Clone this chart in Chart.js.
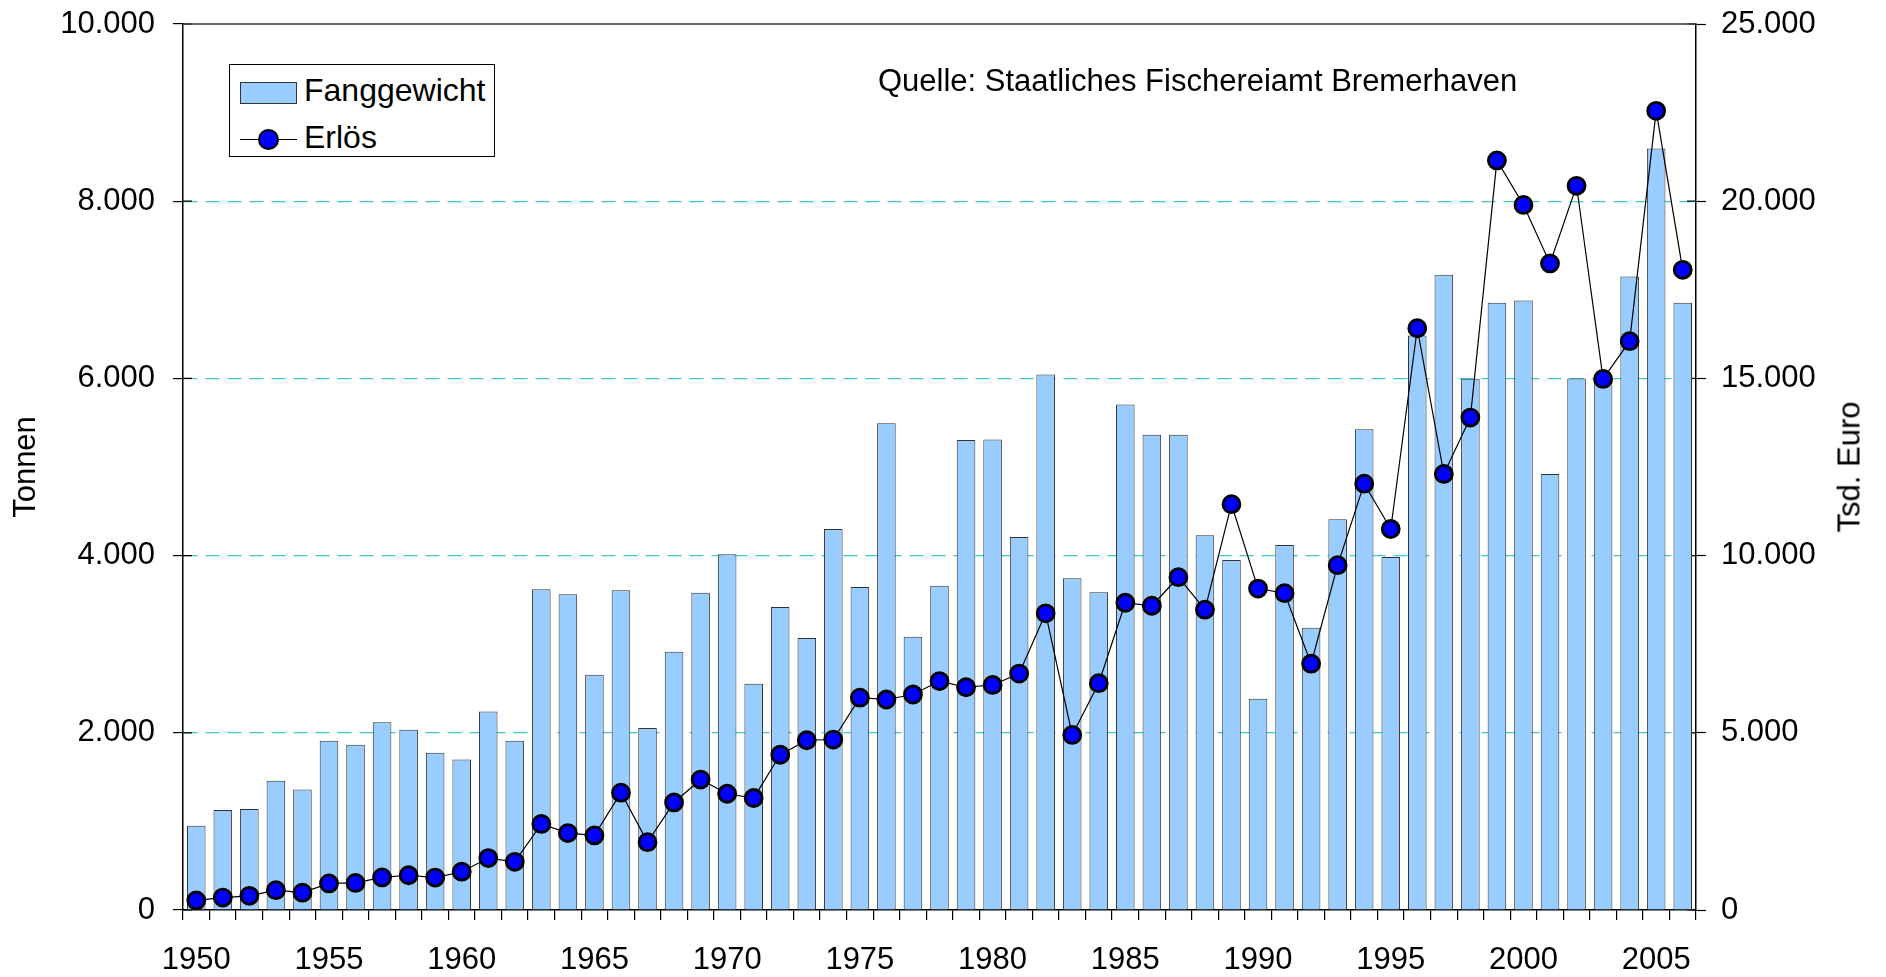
<!DOCTYPE html>
<html lang="de">
<head>
<meta charset="utf-8">
<title>Fanggewicht und Erlös</title>
<script src="https://cdn.jsdelivr.net/npm/chart.js@4/dist/chart.umd.min.js"></script>
<style>
  body { margin: 0; background: #fff; font-family: 'Liberation Sans', Arial, sans-serif; }
  #wrap { position: relative; width: 1886px; height: 977px; }
  #chart { position: absolute; left: 0; top: 0; }
  .legende { position: absolute; left: 229px; top: 64px; width: 264px; height: 91px; border: 1.5px solid #000; background: #fff; }
  .legende .txt { position: absolute; left: 74px; font-size: 32px; line-height: 32px; color: #000; white-space: nowrap; }
  .legende .swatch { position: absolute; left: 10px; top: 17px; width: 55px; height: 20px; background: #99ccff; border: 1px solid #333; }
  .legende .linie { position: absolute; left: 10px; top: 74px; width: 57px; height: 0; border-top: 1.2px solid #000; }
  .legende .punkt { position: absolute; left: 28px; top: 64px; width: 17px; height: 17px; border-radius: 50%; background: #0000ff; border: 2.5px solid #000; }
  .quelle { position: absolute; left: 878px; top: 65px; font-size: 31px; line-height: 31px; color: #000; white-space: nowrap; }
  .titel-rechts { position: absolute; left: 1849px; top: 467px; font-size: 31px; line-height: 31px; white-space: nowrap;
                  transform: translate(-50%, -50%) rotate(-90deg); }
</style>
</head>
<body>
<div id="wrap">
  <canvas id="chart" width="1886" height="977"></canvas>
  <div class="legende">
    <div class="swatch"></div>
    <div class="txt" style="top:9px;">Fanggewicht</div>
    <div class="linie"></div>
    <div class="punkt"></div>
    <div class="txt" style="top:56px;">Erlös</div>
  </div>
  <div class="quelle">Quelle: Staatliches Fischereiamt Bremerhaven</div>
  <div class="titel-rechts">Tsd. Euro</div>
</div>

<script>
// Jahre 1950 - 2006
const jahre = [
  1950, 1951, 1952, 1953, 1954, 1955, 1956, 1957, 1958, 1959,
  1960, 1961, 1962, 1963, 1964, 1965, 1966, 1967, 1968, 1969,
  1970, 1971, 1972, 1973, 1974, 1975, 1976, 1977, 1978, 1979,
  1980, 1981, 1982, 1983, 1984, 1985, 1986, 1987, 1988, 1989,
  1990, 1991, 1992, 1993, 1994, 1995, 1996, 1997, 1998, 1999,
  2000, 2001, 2002, 2003, 2004, 2005, 2006
];

// Fanggewicht in Tonnen (linke Achse)
const fanggewicht = [
  950, 1130, 1140, 1460, 1360, 1910, 1865, 2120, 2035, 1775,
  1700, 2240, 1910, 3620, 3565, 2655, 3610, 2055, 2915, 3580,
  4015, 2555, 3420, 3070, 4300, 3645, 5495, 3085, 3660, 5305,
  5310, 4210, 6045, 3745, 3585, 5705, 5365, 5365, 4230, 3950,
  2385, 4120, 3185, 4410, 5425, 3985, 6485, 7170, 5995, 6855,
  6880, 4920, 6000, 6010, 7150, 8595, 6855
];

// Erlös in Tsd. Euro (rechte Achse)
const erloes = [
  270, 350, 400, 560, 490, 750, 765, 920, 980, 915,
  1080, 1465, 1360, 2430, 2170, 2105, 3310, 1915, 3035, 3680,
  3280, 3160, 4380, 4790, 4810, 5990, 5940, 6080, 6460, 6285,
  6350, 6670, 8370, 4940, 6400, 8670, 8585, 9390, 8475, 11450,
  9070, 8940, 6950, 9730, 12030, 10750, 16415, 12305, 13895, 21150,
  19895, 18245, 20435, 14985, 16050, 22550, 18065
];

const ticksTonnen = [0, 2000, 4000, 6000, 8000, 10000];
const ticksEuro = [0, 5000, 10000, 15000, 20000, 25000];

const SCHRIFT = { family: "'Liberation Sans', Arial, sans-serif", size: 31 };

function fmtNum(n) {
  return String(n).replace(/\B(?=(\d{3})+(?!\d))/g, '.');
}

// obere Rahmenlinie + kurze Teilstriche nach innen
const rahmen = {
  id: 'rahmen',
  beforeDatasetsDraw(chart) {
    const { ctx, chartArea: a, scales } = chart;
    ctx.save();
    ctx.strokeStyle = '#000';
    ctx.lineWidth = 1.2;
    ctx.beginPath();
    ticksTonnen.forEach(v => {
      const y = scales.y.getPixelForValue(v);
      ctx.moveTo(a.left, y); ctx.lineTo(a.left + 9, y);
    });
    ticksEuro.forEach(v => {
      const y = scales.y1.getPixelForValue(v);
      ctx.moveTo(a.right - 9, y); ctx.lineTo(a.right, y);
    });
    ctx.stroke();
    ctx.lineWidth = 1.5;
    ctx.strokeStyle = '#333';
    ctx.beginPath();
    ctx.moveTo(a.left, a.top); ctx.lineTo(a.right, a.top);
    ctx.stroke();
    ctx.restore();
  }
};

const ctx = document.getElementById('chart').getContext('2d');
new Chart(ctx, {
  type: 'bar',
  data: {
    labels: jahre,
    datasets: [
      {
        type: 'line',
        label: 'Erlös',
        data: erloes,
        yAxisID: 'y1',
        order: 1,
        borderColor: '#000',
        borderWidth: 1.2,
        tension: 0,
        pointRadius: 8.5,
        pointBackgroundColor: '#0000ff',
        pointBorderColor: '#000',
        pointBorderWidth: 2.8
      },
      {
        type: 'bar',
        label: 'Fanggewicht',
        data: fanggewicht,
        yAxisID: 'y',
        order: 2,
        backgroundColor: '#99ccff',
        borderColor: '#333',
        borderWidth: 1,
        barPercentage: 0.7,
        categoryPercentage: 1
      }
    ]
  },
  options: {
    responsive: false,
    animation: false,
    devicePixelRatio: 1,
    layout: { padding: { top: 24, left: 0, right: 0, bottom: 0 } },
    plugins: { legend: { display: false }, tooltip: { enabled: false } },
    scales: {
      x: {
        offset: true,
        afterFit: s => { s.height = 67; },
        grid: { offset: true, drawOnChartArea: false, drawTicks: true, tickLength: 10, tickColor: '#000', lineWidth: 1.2 },
        border: { display: true, color: '#000', width: 1.5 },
        ticks: {
          autoSkip: false,
          maxRotation: 0,
          padding: 22,
          color: '#000',
          font: SCHRIFT,
          callback: (v, i) => (jahre[i] % 5 === 0 ? String(jahre[i]) : '')
        }
      },
      y: {
        position: 'left',
        min: 0,
        max: 10000,
        afterFit: s => { s.width = 183; s.paddingTop = 0; s.paddingBottom = 0; },
        afterBuildTicks: s => { s.ticks = ticksTonnen.map(v => ({ value: v })); },
        grid: {
          color: c => (c.tick && (c.tick.value === 0 || c.tick.value === 10000)) ? 'rgba(0,0,0,0)' : '#3fc9c9',
          lineWidth: 1.2,
          drawTicks: true,
          tickLength: 10,
          tickColor: '#000',
          tickWidth: 1.2
        },
        border: { display: true, color: '#000', width: 1.5, dash: [14, 8] },
        ticks: { padding: 18, color: '#000', font: SCHRIFT, callback: v => fmtNum(v) },
        title: { display: true, text: 'Tonnen', color: '#000', font: SCHRIFT, padding: { top: 8, bottom: 0 } }
      },
      y1: {
        position: 'right',
        min: 0,
        max: 25000,
        afterFit: s => { s.width = 190; s.paddingTop = 0; s.paddingBottom = 0; },
        afterBuildTicks: s => { s.ticks = ticksEuro.map(v => ({ value: v })); },
        grid: { drawOnChartArea: false, drawTicks: true, tickLength: 10, tickColor: '#000', tickWidth: 1.2 },
        border: { display: true, color: '#000', width: 1.5 },
        ticks: { padding: 15, color: '#000', font: SCHRIFT, callback: v => fmtNum(v) }
      }
    }
  },
  plugins: [rahmen]
});
</script>
</body>
</html>
